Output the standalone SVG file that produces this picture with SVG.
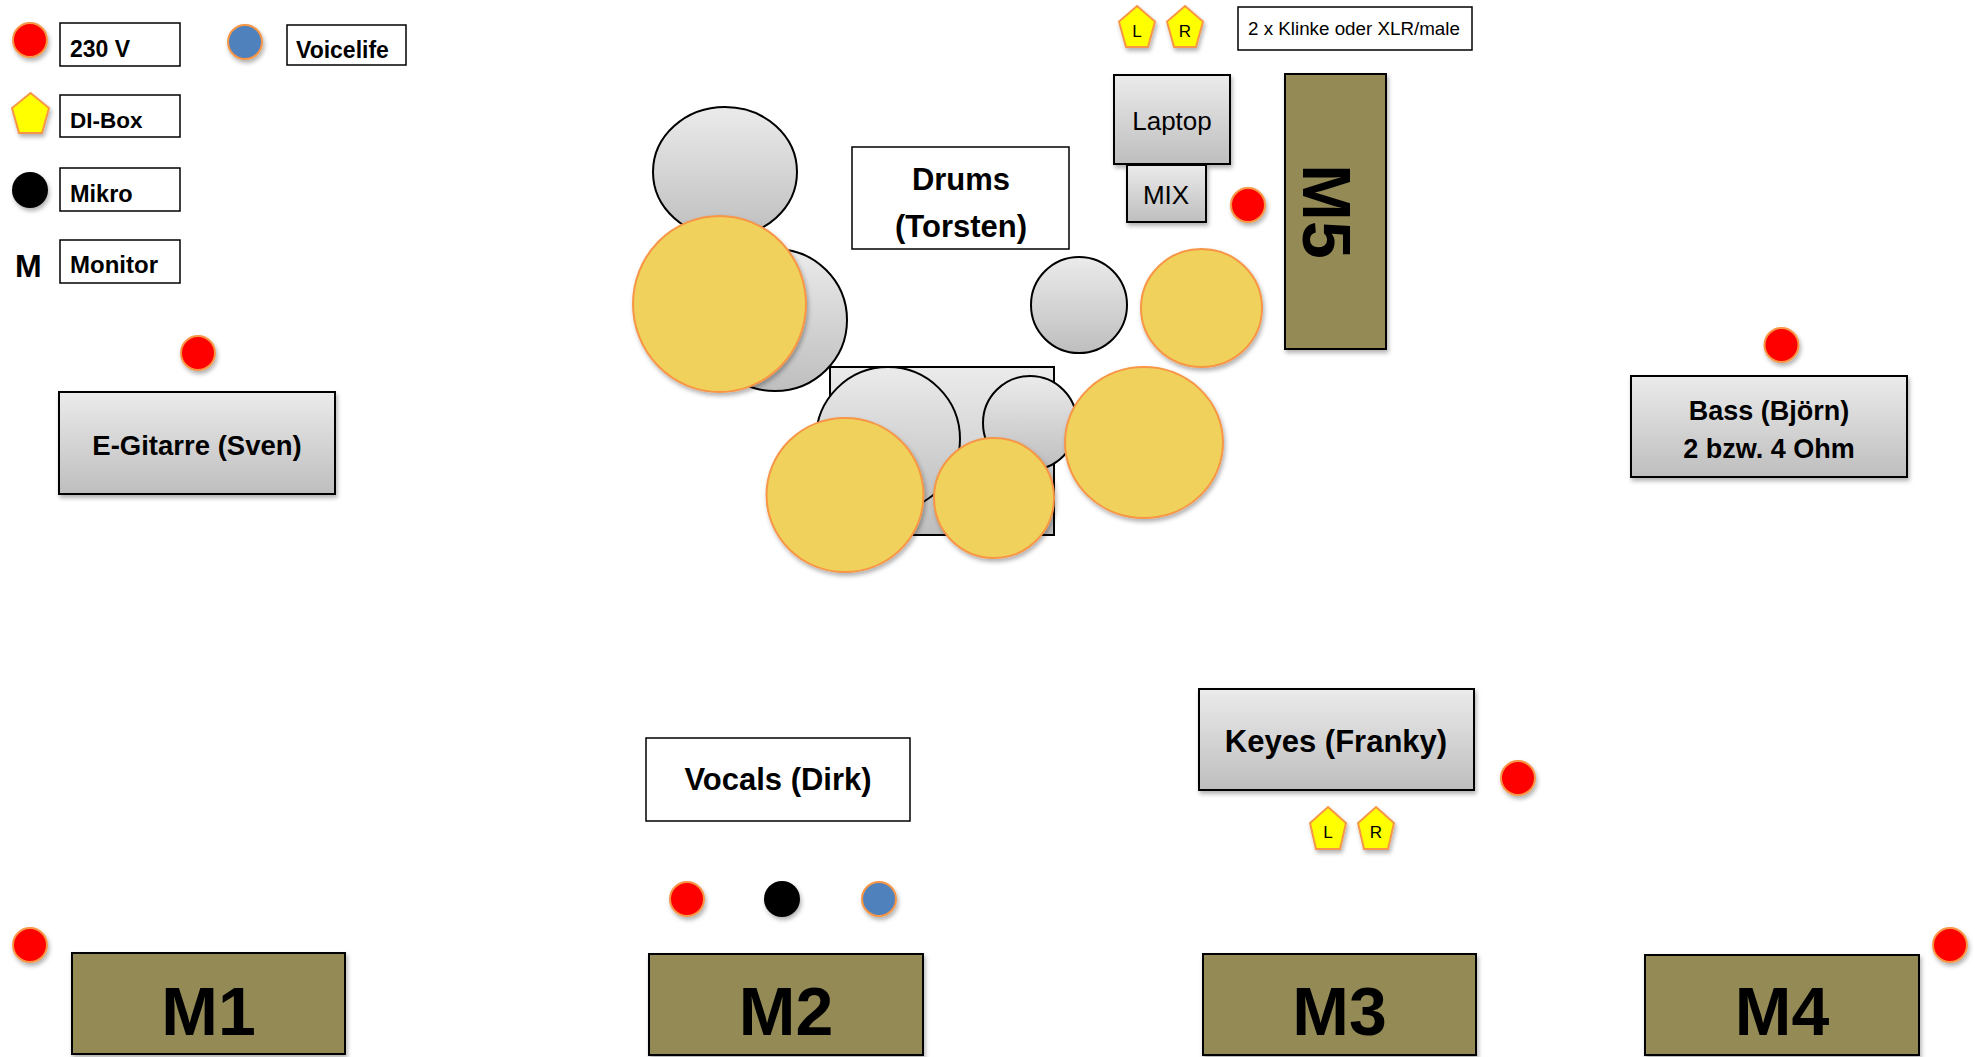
<svg xmlns="http://www.w3.org/2000/svg" width="1975" height="1057" viewBox="0 0 1975 1057">
<style>
text{font-family:"Liberation Sans",Arial,sans-serif;fill:#000}
.b{font-weight:bold}
.lbl{fill:#fff;stroke:#000;stroke-width:1.5}
.gbox{fill:url(#gg);stroke:#000;stroke-width:2;filter:url(#sh)}
.gel{fill:url(#gg);stroke:#000;stroke-width:2}
.cym{fill:#EFD15B;stroke:#F79646;stroke-width:2;filter:url(#sh)}
.pwr{fill:#FF0000;stroke:#F79646;stroke-width:2;filter:url(#sh)}
.vl{fill:#4F81BD;stroke:#F79646;stroke-width:2;filter:url(#sh)}
.mic{fill:#000;filter:url(#sh)}
.di{fill:#FFFF00;stroke:#F79646;stroke-width:2;filter:url(#sh)}
.mon{fill:#948A54;stroke:#000;stroke-width:2;filter:url(#sh)}
.mt{font-weight:bold;font-size:68px;text-anchor:middle}
.c{text-anchor:middle}
</style>
<defs>
<linearGradient id="gg" x1="0" y1="0" x2="0" y2="1">
<stop offset="0" stop-color="#EBEBEB"/>
<stop offset="1" stop-color="#BEBEBE"/>
</linearGradient>
<filter id="sh" x="-20%" y="-20%" width="150%" height="150%">
<feDropShadow dx="1.5" dy="3" stdDeviation="2" flood-color="#000" flood-opacity="0.3"/>
</filter>
</defs>
<rect width="1975" height="1057" fill="#fff"/>

<g id="legend">
<circle class="pwr" cx="30" cy="40" r="17"/>
<rect class="lbl" x="60" y="23" width="120" height="43"/>
<text class="b" x="70" y="57" font-size="23">230 V</text>
<circle class="vl" cx="245" cy="42" r="17"/>
<rect class="lbl" x="287" y="25" width="119" height="40"/>
<text class="b" x="296" y="58" font-size="23">Voicelife</text>
<polygon class="di" points="30.5,93 49,108 42,133 19,133 12,108"/>
<rect class="lbl" x="60" y="95" width="120" height="42"/>
<text class="b" x="70" y="128" font-size="22.5">DI-Box</text>
<circle class="mic" cx="30" cy="190" r="18"/>
<rect class="lbl" x="60" y="168" width="120" height="43"/>
<text class="b" x="70" y="202" font-size="23.5">Mikro</text>
<text class="b" x="15" y="277" font-size="32">M</text>
<rect class="lbl" x="60" y="240" width="120" height="43"/>
<text class="b" x="70" y="273" font-size="24">Monitor</text>
</g>

<g id="di-top">
<polygon class="di" points="1137,6 1155,21.5 1148,47 1126,47 1119,21.5"/>
<text class="c" x="1137" y="37" font-size="17">L</text>
<polygon class="di" points="1185,6 1203,21.5 1196,47 1174,47 1167,21.5"/>
<text class="c" x="1185" y="37" font-size="17">R</text>
<rect class="lbl" x="1238" y="7" width="234" height="43"/>
<text x="1248" y="35" font-size="18.8">2 x Klinke oder XLR/male</text>
</g>

<g id="laptop">
<rect class="gbox" x="1114" y="75" width="116" height="89"/>
<text class="c" x="1172" y="130" font-size="26">Laptop</text>
</g>
<g id="mix">
<rect class="gbox" x="1127" y="165" width="79" height="57"/>
<text class="c" x="1166" y="204" font-size="26">MIX</text>
</g>
<g id="power-mix"><circle class="pwr" cx="1248" cy="205" r="17"/></g>

<g id="M5">
<rect class="mon" x="1285" y="74" width="101" height="275"/>
<text class="mt" transform="translate(1328,211.5) rotate(90)" x="0" y="25">M5</text>
</g>

<g id="drums">
<ellipse class="gel" cx="725" cy="172" rx="72" ry="65"/>
<ellipse class="gel" cx="775" cy="320" rx="72" ry="71"/>
<ellipse class="cym" cx="719.5" cy="304" rx="86.5" ry="88"/>
<rect class="gel" x="830" y="367" width="224" height="168"/>
<ellipse class="gel" cx="888" cy="439" rx="72" ry="72"/>
<ellipse class="gel" cx="1030" cy="423" rx="47" ry="47"/>
<ellipse class="cym" cx="845" cy="495" rx="78.5" ry="77"/>
<ellipse class="cym" cx="994" cy="498" rx="60" ry="60"/>
<ellipse class="cym" cx="1144" cy="442.5" rx="79" ry="75.5"/>
<ellipse class="gel" cx="1079" cy="305" rx="48" ry="48"/>
<ellipse class="cym" cx="1201.5" cy="308" rx="60.5" ry="59"/>
</g>
<g id="drums-label">
<rect class="lbl" x="852" y="147" width="217" height="102"/>
<text class="b c" x="961" y="190" font-size="31">Drums</text>
<text class="b c" x="961" y="237" font-size="31">(Torsten)</text>
</g>

<g id="egitarre">
<circle class="pwr" cx="198" cy="353" r="17"/>
<rect class="gbox" x="59" y="392" width="276" height="102"/>
<text class="b c" x="197" y="455" font-size="27.5">E-Gitarre (Sven)</text>
</g>

<g id="bass">
<circle class="pwr" cx="1781.5" cy="345" r="17"/>
<rect class="gbox" x="1631" y="376" width="276" height="101"/>
<text class="b c" x="1769" y="420" font-size="27">Bass (Björn)</text>
<text class="b c" x="1769" y="458" font-size="27">2 bzw. 4 Ohm</text>
</g>

<g id="vocals">
<rect class="lbl" x="646" y="738" width="264" height="83"/>
<text class="b c" x="778" y="790" font-size="31">Vocals (Dirk)</text>
<circle class="pwr" cx="687" cy="899" r="17"/>
<circle class="mic" cx="782" cy="899" r="18"/>
<circle class="vl" cx="879" cy="899" r="17"/>
</g>

<g id="keyes">
<rect class="gbox" x="1199" y="689" width="275" height="101"/>
<text class="b c" x="1336" y="752" font-size="31">Keyes (Franky)</text>
<circle class="pwr" cx="1518" cy="778" r="17"/>
<polygon class="di" points="1328,807 1346,823 1340,849 1316,849 1310,823"/>
<text class="c" x="1328" y="838" font-size="17">L</text>
<polygon class="di" points="1376,807 1394,823 1388,849 1364,849 1358,823"/>
<text class="c" x="1376" y="838" font-size="17">R</text>
</g>

<g id="M1">
<circle class="pwr" cx="30" cy="945" r="17"/>
<rect class="mon" x="72" y="953" width="273" height="101"/>
<text class="mt" x="208.5" y="1035">M1</text>
</g>
<g id="M2">
<rect class="mon" x="649" y="954" width="274" height="101"/>
<text class="mt" x="786" y="1035">M2</text>
</g>
<g id="M3">
<rect class="mon" x="1203" y="954" width="273" height="101"/>
<text class="mt" x="1339.5" y="1035">M3</text>
</g>
<g id="M4">
<rect class="mon" x="1645" y="955" width="274" height="100"/>
<text class="mt" x="1782" y="1035">M4</text>
<circle class="pwr" cx="1950" cy="945" r="17"/>
</g>
<g id="connectors"/>
</svg>
